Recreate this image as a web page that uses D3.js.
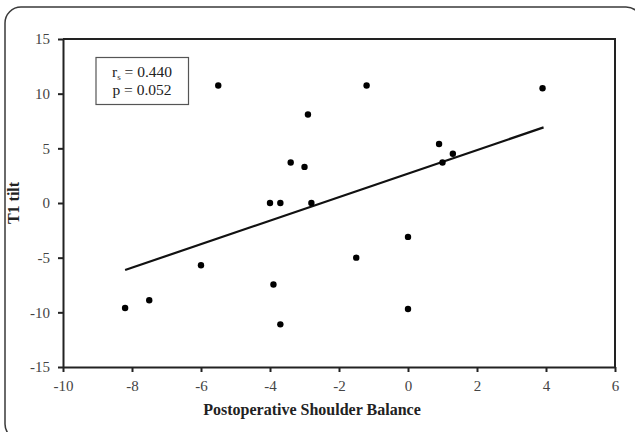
<!DOCTYPE html>
<html>
    <head>
        <meta charset="utf-8">
        <script src="https://d3js.org/d3.v7.min.js"></script>
        <style>
            body, html {
                margin: 0;
                padding: 0;
                background: #ffffff;
            }
            svg text {
                font-family: "Liberation Serif", "Times New Roman", "DejaVu Serif", serif;
            }
            .axis text {
                font-size: 15px;
                fill: #444444;
            }
            .axis path, .axis line {
                stroke: #222222;
                stroke-width: 2;
            }
            .axisLabel {
                font-weight: bold;
                font-size: 16px;
                fill: #222222;
            }
        </style>
    </head>
    <body>
        <div id="chart"></div>
        <script>
            // data
            const shoulderBalance = [-5.5, -1.2, -2.9, -3.4, -3.0, -4.0, -3.7, -2.8, 3.9, 0.9, 1.3, 1.0,
                                     -6.0, -3.9, -8.2, -7.5, -3.7, -1.5, 0.0, 0.0];
            const t1Tilt = [10.75, 10.75, 8.1, 3.7, 3.3, 0.0, 0.0, 0.0, 10.5, 5.4, 4.5, 3.7,
                            -5.7, -7.45, -9.6, -8.9, -11.1, -5.0, -3.1, -9.7];
            // regression line end points
            const trendX = [-8.2, 3.93];
            const trendY = [-6.13, 6.92];
            const xTicks = [-10, -8, -6, -4, -2, 0, 2, 4, 6];
            const yTicks = [-15, -10, -5, 0, 5, 10, 15];
            const statLines = ["0.440", "0.052"];

            const width = 635;
            const height = 432;
            const margin = {top: 39, left: 63, right: 19, bottom: 65};

            const svg = d3.select("#chart")
                .append("svg")
                .attr("width", width)
                .attr("height", height)
                .attr("font-family", "Liberation Serif, serif");

            // outer rounded frame
            svg.append("rect")
                .attr("x", 5)
                .attr("y", 7)
                .attr("width", 637)
                .attr("height", 433)
                .attr("rx", 16)
                .attr("fill", "none")
                .attr("stroke", "#3a3a3a")
                .attr("stroke-width", 1.5);

            const xScale = d3.scaleLinear()
                .domain([-10, 6])
                .range([margin.left, width - margin.right - 1]);

            const yScale = d3.scaleLinear()
                .domain([-15, 15])
                .range([height - margin.bottom, margin.top]);

            // plot area border (top and right)
            svg.append("path")
                .attr("d", `M${xScale(-10)},${yScale(15)} H${xScale(6)} V${yScale(-15)}`)
                .attr("fill", "none")
                .attr("stroke", "#222222")
                .attr("stroke-width", 2);

            const plain = d => String(d);

            svg.append("g")
                .attr("class", "axis")
                .attr("transform", `translate(0,${yScale(-15)})`)
                .call(d3.axisBottom(xScale).tickValues(xTicks).tickFormat(plain)
                    .tickSize(5).tickSizeOuter(0).tickPadding(8));

            svg.append("g")
                .attr("class", "axis")
                .attr("transform", `translate(${xScale(-10)},0)`)
                .call(d3.axisLeft(yScale).tickValues(yTicks).tickFormat(plain)
                    .tickSize(5).tickSizeOuter(0).tickPadding(8));

            svg.selectAll(".axis").attr("font-family", null);

            // axis titles
            svg.append("text")
                .attr("class", "axisLabel")
                .attr("x", 312)
                .attr("y", 415)
                .attr("text-anchor", "middle")
                .text("Postoperative Shoulder Balance");

            svg.append("text")
                .attr("class", "axisLabel")
                .attr("transform", `translate(19,${yScale(0)}) rotate(-90)`)
                .attr("text-anchor", "middle")
                .text("T1 tilt");

            // regression line
            svg.append("line")
                .attr("x1", xScale(trendX[0]))
                .attr("y1", yScale(trendY[0]))
                .attr("x2", xScale(trendX[1]))
                .attr("y2", yScale(trendY[1]))
                .attr("stroke", "#111111")
                .attr("stroke-width", 2.2);

            // points
            svg.append("g")
                .selectAll("circle")
                .data(d3.range(shoulderBalance.length))
                .enter()
                .append("circle")
                    .attr("cx", i => xScale(shoulderBalance[i]))
                    .attr("cy", i => yScale(t1Tilt[i]))
                    .attr("r", 3.2)
                    .attr("fill", "#000000");

            // stats box
            svg.append("rect")
                .attr("x", 96)
                .attr("y", 57.5)
                .attr("width", 92.5)
                .attr("height", 47)
                .attr("fill", "#ffffff")
                .attr("stroke", "#555555")
                .attr("stroke-width", 1.2);

            const t1 = svg.append("text")
                .attr("x", 142)
                .attr("y", 77)
                .attr("text-anchor", "middle")
                .attr("font-size", 15.5)
                .attr("fill", "#222222");
            t1.append("tspan").text("r");
            t1.append("tspan").attr("font-size", 9).attr("dy", 3).text("s");
            t1.append("tspan").attr("dy", -3).text(" = " + statLines[0]);

            svg.append("text")
                .attr("x", 142)
                .attr("y", 95)
                .attr("text-anchor", "middle")
                .attr("font-size", 15.5)
                .attr("fill", "#222222")
                .text("p = " + statLines[1]);
        </script>
    </body>
</html>
